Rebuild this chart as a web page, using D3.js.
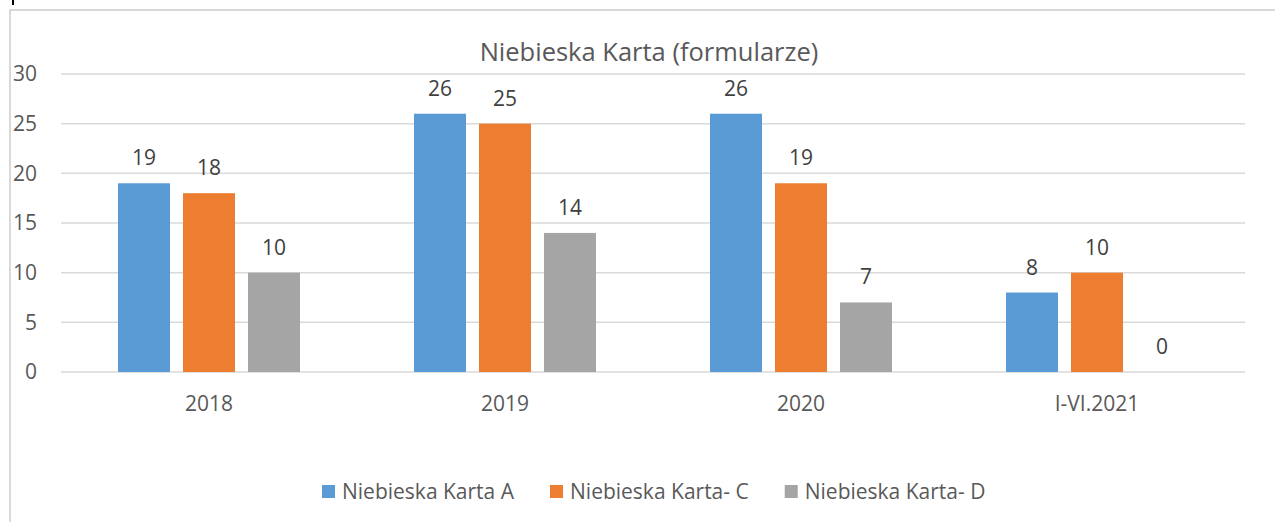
<!DOCTYPE html>
<html>
<head>
<meta charset="utf-8">
<script src="https://cdn.jsdelivr.net/npm/d3@7"></script>
<style>
  html, body { margin: 0; padding: 0; background: #fff; }
  svg { display: block; font-family: "Open Sans", sans-serif; }
</style>
</head>
<body>
<div id="chart"></div>
<script>
const categories = ["2018", "2019", "2020", "I-VI.2021"];
const seriesNames = ["Niebieska Karta A", "Niebieska Karta- C", "Niebieska Karta- D"];
const valuesA = [19, 26, 26, 8];
const valuesC = [18, 25, 19, 10];
const valuesD = [10, 14, 7, 0];
const yTicks = [0, 5, 10, 15, 20, 25, 30];
const colors = ["#5b9bd5", "#ed7d31", "#a5a5a5"];

const W = 1275, H = 522;
const plot = {left: 61, right: 1245, top: 74, bottom: 372};

const svg = d3.select("#chart").append("svg")
  .attr("width", W)
  .attr("height", H);

// chart frame (cropped at right/bottom)
svg.append("path")
  .attr("d", `M10,${H} L10,10 L${W},10`)
  .attr("fill", "none")
  .attr("stroke", "#d9d9d9")
  .attr("stroke-width", 2);

// small black mark at top-left
svg.append("rect")
  .attr("x", 12).attr("y", 0)
  .attr("width", 2).attr("height", 5)
  .attr("fill", "#000");

const x0 = d3.scaleBand()
  .domain(categories)
  .range([plot.left, plot.right])
  .paddingInner(0)
  .paddingOuter(0);

const x1 = d3.scaleBand()
  .domain(seriesNames)
  .range([0, x0.bandwidth()])
  .paddingInner(0.2)
  .paddingOuter(0.877);

const y = d3.scaleLinear()
  .domain([0, 30])
  .range([plot.bottom, plot.top]);

// gridlines
svg.append("g")
  .selectAll("line")
  .data(yTicks)
  .enter()
  .append("line")
  .attr("x1", plot.left)
  .attr("x2", plot.right)
  .attr("y1", d => y(d))
  .attr("y2", d => y(d))
  .attr("stroke", "#d9d9d9")
  .attr("stroke-width", 1.5);

// y tick labels
svg.append("g")
  .selectAll("text")
  .data(yTicks)
  .enter()
  .append("text")
  .attr("x", 37)
  .attr("y", d => y(d))
  .attr("dy", "0.35em")
  .attr("text-anchor", "end")
  .attr("font-size", "21px")
  .attr("fill", "#595959")
  .text(d => d);

// x category labels
svg.append("g")
  .selectAll("text")
  .data(categories)
  .enter()
  .append("text")
  .attr("x", d => x0(d) + x0.bandwidth() / 2)
  .attr("y", 411)
  .attr("text-anchor", "middle")
  .attr("font-size", "21px")
  .attr("fill", "#595959")
  .text(d => d);

const series = [valuesA, valuesC, valuesD];
const rows = [];
categories.forEach((c, i) => {
  seriesNames.forEach((s, j) => {
    rows.push({cat: c, name: s, value: series[j][i], color: colors[j]});
  });
});

// bars
svg.append("g")
  .selectAll("rect")
  .data(rows)
  .enter()
  .append("rect")
  .attr("x", d => x0(d.cat) + x1(d.name))
  .attr("y", d => y(d.value))
  .attr("width", x1.bandwidth())
  .attr("height", d => y(0) - y(d.value))
  .attr("fill", d => d.color);

// value labels
svg.append("g")
  .selectAll("text")
  .data(rows)
  .enter()
  .append("text")
  .attr("x", d => x0(d.cat) + x1(d.name) + x1.bandwidth() / 2)
  .attr("y", d => y(d.value) - 18)
  .attr("text-anchor", "middle")
  .attr("font-size", "21px")
  .attr("fill", "#404040")
  .text(d => d.value);

// title
svg.append("text")
  .attr("x", 649)
  .attr("y", 61)
  .attr("text-anchor", "middle")
  .attr("font-size", "25.5px")
  .attr("fill", "#595959")
  .text("Niebieska Karta (formularze)");

// legend
const legend = svg.append("g");
let lx = 0;
seriesNames.forEach((name, i) => {
  const item = legend.append("g").attr("transform", `translate(${lx},0)`);
  item.append("rect")
    .attr("x", 0).attr("y", -7)
    .attr("width", 13).attr("height", 13)
    .attr("fill", colors[i]);
  const t = item.append("text")
    .attr("x", 20)
    .attr("y", 0)
    .attr("dy", "0.35em")
    .attr("font-size", "21px")
    .attr("fill", "#595959")
    .text(name);
  lx += 20 + t.node().getComputedTextLength() + 36;
});
const legendWidth = lx - 36;
legend.attr("transform", `translate(${322},492)`);
</script>
</body>
</html>
